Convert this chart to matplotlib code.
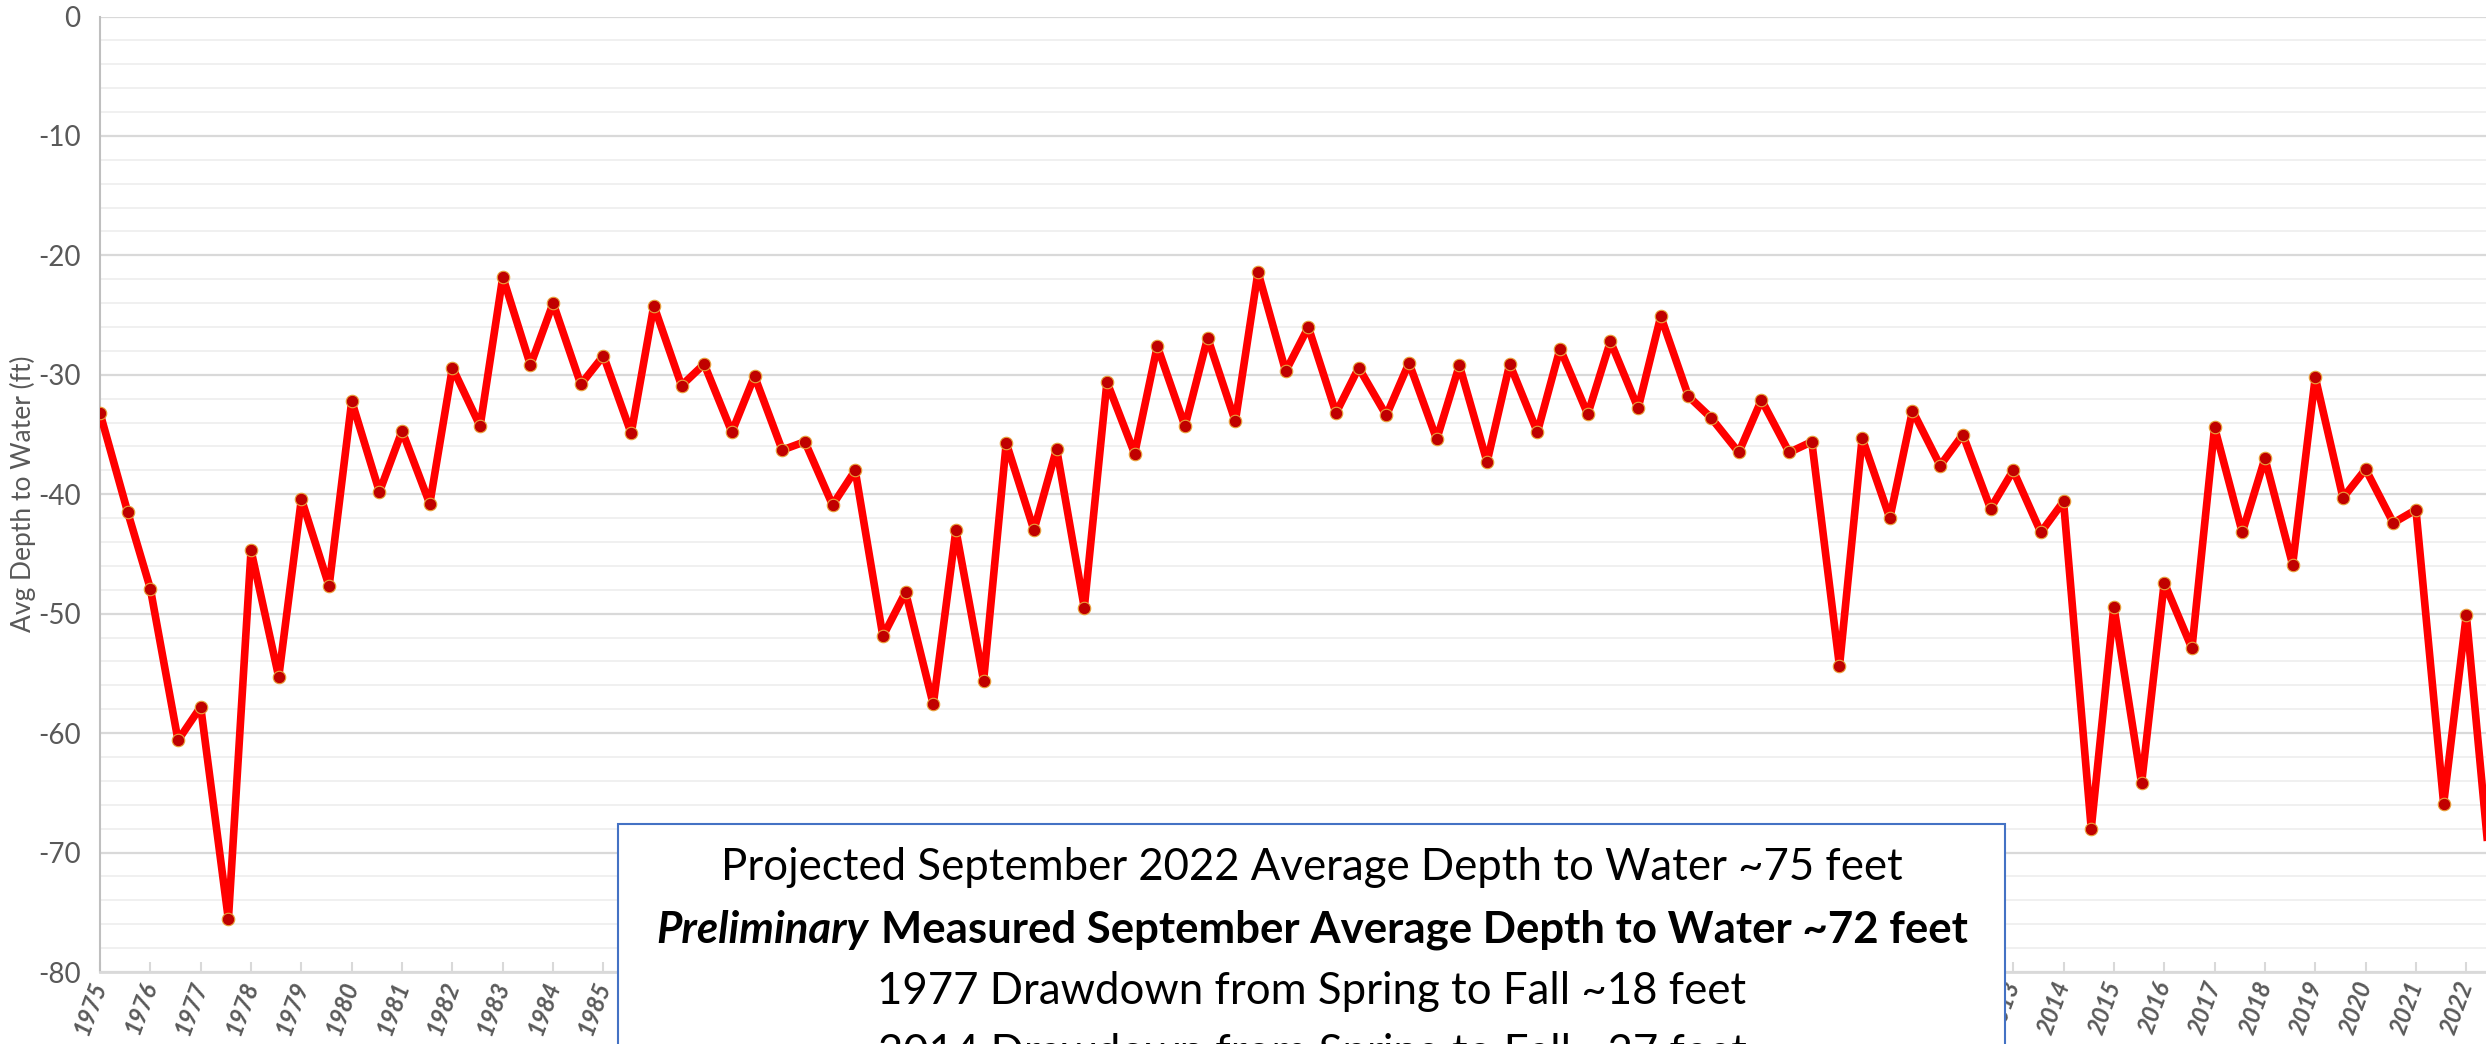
import numpy as np
import matplotlib as mpl
mpl.use('Agg')
from matplotlib import pyplot as plt
from matplotlib.patches import Rectangle

# spring / fall average depth to water (ft, negative = below surface)
years = np.arange(1975, 2023)
spring_depth = [-33.2, -47.9, -57.8, -44.7, -40.4, -32.2, -34.7, -29.4, -21.8, -24.0,
                -28.4, -24.2, -29.1, -30.1, -35.6, -38.0, -48.2, -43.0, -35.7, -36.2,
                -30.6, -27.6, -26.9, -21.4, -26.0, -29.4, -29.0, -29.2, -29.1, -27.8,
                -27.2, -25.1, -33.6, -32.1, -35.6, -35.3, -33.0, -35.0, -38.0, -40.6,
                -49.4, -47.4, -34.4, -37.0, -30.2, -37.9, -41.3, -50.1]
fall_depth = [-41.5, -60.6, -75.6, -55.3, -47.7, -39.8, -40.8, -34.3, -29.2, -30.8,
              -34.9, -30.9, -34.8, -36.3, -40.9, -51.9, -57.6, -55.6, -43.0, -49.5,
              -36.6, -34.3, -33.9, -29.7, -33.2, -33.4, -35.4, -37.3, -34.8, -33.3,
              -32.8, -31.8, -36.5, -36.5, -54.4, -42.0, -37.6, -41.2, -43.2, -68.0,
              -64.2, -52.9, -43.2, -45.9, -40.3, -42.4, -65.9, -75.0]
fall_offset = 0.55  # fall sample, fraction of a year after spring

tick_years = np.arange(1975, 2024)

notes = ['Projected September 2022 Average Depth to Water ~75 feet',
         ('Preliminary', 'Measured September Average Depth to Water ~72 feet'),
         '1977 Drawdown from Spring to Fall ~18 feet',
         '2014 Drawdown from Spring to Fall ~27 feet']

dates = np.column_stack([years, years + fall_offset]).ravel()
depth = np.column_stack([spring_depth, fall_depth]).ravel()

plt.rcParams['font.family'] = ['Lato', 'DejaVu Sans']
plt.rcParams['axes.unicode_minus'] = False

W, H = 2486, 1044
fig = plt.figure(figsize=(W / 100, H / 100), dpi=100)
ax = fig.add_axes([100 / W, 1 - 972 / H, 2467 / W, (972 - 16.5) / H])

ax.plot(dates, depth, color='#FF0000', lw=5.5, marker='o', ms=9,
        mfc='#C00000', mec='#E9A23B', mew=0.8, zorder=3)

ax.set_xlim(1975, 2024)
ax.set_ylim(-80, 0)
ax.set_yticks(np.arange(-80, 1, 10))
ax.set_yticks(np.arange(-80, 1, 2), minor=True)
ax.grid(which='major', axis='y', color='#D9D9D9', lw=1.6)
ax.grid(which='minor', axis='y', color='#EDEDED', lw=1.2)
ax.set_axisbelow(True)

for s in ['top', 'right']:
    ax.spines[s].set_visible(False)
ax.spines['left'].set_color('#BFBFBF')
ax.spines['left'].set_linewidth(1.5)
ax.spines['bottom'].set_color('#D9D9D9')
ax.spines['bottom'].set_linewidth(2)

ax.tick_params(axis='y', which='both', length=0, labelsize=20,
               labelcolor='#595959', pad=14)
ax.set_xticks(tick_years)
ax.set_xticklabels([str(y) for y in tick_years], rotation=70, ha='right',
                   va='center', rotation_mode='anchor', fontstyle='italic',
                   fontweight='bold')
ax.tick_params(axis='x', direction='in', length=7, width=1.5, color='#D9D9D9',
               labelsize=17, labelcolor='#595959', pad=7)

ax.set_ylabel('Avg Depth to Water (ft)', fontsize=19, color='#595959')
ax.yaxis.set_label_coords((36 - 100) / 2467, 0.5)

# text box over the bottom of the chart
box = Rectangle((618 / W, -0.2), (2005 - 618) / W, (1044 - 824) / H + 0.2,
                transform=fig.transFigure, fc='white', ec='#4472C4', lw=1.5,
                zorder=10)
fig.add_artist(box)

cx = 1312
ys = [867, 930, 992, 1054]
fs = 31.5
fig.text(cx / W, 1 - ys[0] / H, notes[0], ha='center', va='center',
         fontsize=fs, zorder=11)
t1 = fig.text(0, 1 - ys[1] / H, notes[1][0], ha='left', va='center',
              fontsize=fs, weight='bold', style='italic', zorder=11)
t2 = fig.text(0, 1 - ys[1] / H, notes[1][1], ha='left', va='center',
              fontsize=fs, weight='bold', zorder=11)
fig.text(cx / W, 1 - ys[2] / H, notes[2], ha='center', va='center',
         fontsize=fs, zorder=11)
fig.text(cx / W, 1 - ys[3] / H, notes[3], ha='center', va='center',
         fontsize=fs, zorder=11)

r = fig.canvas.get_renderer()
w1 = t1.get_window_extent(r).width
w2 = t2.get_window_extent(r).width
gap = 0.28 * fs * 100 / 72
start = cx - (w1 + gap + w2) / 2
t1.set_x(start / W)
t2.set_x((start + w1 + gap) / W)

fig.savefig('out.png', dpi=100)
